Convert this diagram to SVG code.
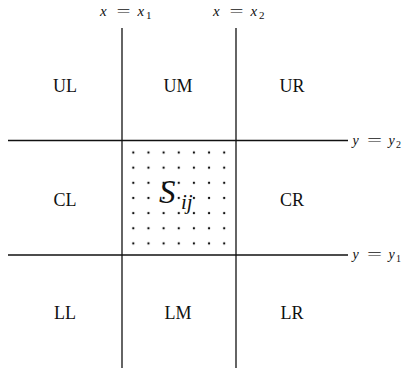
<svg xmlns="http://www.w3.org/2000/svg" width="408" height="368" viewBox="0 0 408 368">
<style>
.ln{stroke:#111;stroke-width:1.3;fill:none}
.lab{font-family:"Liberation Serif","Times New Roman",serif;font-size:18px;fill:#111;text-anchor:middle}
.m{font-family:"Liberation Serif","Times New Roman",serif;font-style:italic;fill:#111}
.r{font-family:"Liberation Serif","Times New Roman",serif;fill:#111}
.xl{font-size:15px}
.yl{font-size:14px}
</style>
<defs>
<pattern id="dots" x="133.3" y="152.5" width="15.15" height="15.15" patternUnits="userSpaceOnUse">
<circle cx="0" cy="0" r="1.2" fill="#111"/>
<circle cx="15.15" cy="0" r="1.2" fill="#111"/>
<circle cx="0" cy="15.15" r="1.2" fill="#111"/>
<circle cx="15.15" cy="15.15" r="1.2" fill="#111"/>
</pattern>
</defs>
<g id="dotfield">
<rect x="131" y="150" width="96" height="96" fill="url(#dots)"/>
</g>
<g id="connectors">
<line class="ln" x1="122" y1="28" x2="122" y2="368"/>
<line class="ln" x1="236" y1="28" x2="236" y2="368"/>
<line class="ln" x1="8" y1="140.5" x2="348" y2="140.5"/>
<line class="ln" x1="8" y1="255" x2="348" y2="255"/>
</g>
<g id="UL"><text class="lab" x="65" y="92">UL</text></g>
<g id="UM"><text class="lab" x="178" y="92">UM</text></g>
<g id="UR"><text class="lab" x="292" y="92">UR</text></g>
<g id="CL"><text class="lab" x="65" y="206">CL</text></g>
<g id="CR"><text class="lab" x="292" y="206">CR</text></g>
<g id="LL"><text class="lab" x="65" y="319">LL</text></g>
<g id="LM"><text class="lab" x="178" y="319">LM</text></g>
<g id="LR"><text class="lab" x="292" y="319">LR</text></g>
<g id="Sij">
<text class="m" font-size="33" x="159" y="203">S</text>
<text class="m" font-size="21" x="181" y="209">ij</text>
</g>
<g id="xlab1" class="xl">
<text class="m" x="100" y="16">x</text>
<text class="r" x="116.5" y="16" textLength="14" lengthAdjust="spacingAndGlyphs">=</text>
<text class="m" x="137.5" y="16">x</text>
<text class="r" font-size="11" x="146" y="19">1</text>
</g>
<g id="xlab2" class="xl">
<text class="m" x="213" y="16">x</text>
<text class="r" x="229.5" y="16" textLength="14" lengthAdjust="spacingAndGlyphs">=</text>
<text class="m" x="250.5" y="16">x</text>
<text class="r" font-size="11" x="259" y="19">2</text>
</g>
<g id="ylab2" class="yl">
<text class="m" x="352.5" y="145">y</text>
<text class="r" x="367" y="145" textLength="15" lengthAdjust="spacingAndGlyphs">=</text>
<text class="m" x="388.5" y="145">y</text>
<text class="r" font-size="10" x="396" y="148">2</text>
</g>
<g id="ylab1" class="yl">
<text class="m" x="352.5" y="259">y</text>
<text class="r" x="367" y="259" textLength="15" lengthAdjust="spacingAndGlyphs">=</text>
<text class="m" x="388.5" y="259">y</text>
<text class="r" font-size="10" x="396" y="262">1</text>
</g>
</svg>
